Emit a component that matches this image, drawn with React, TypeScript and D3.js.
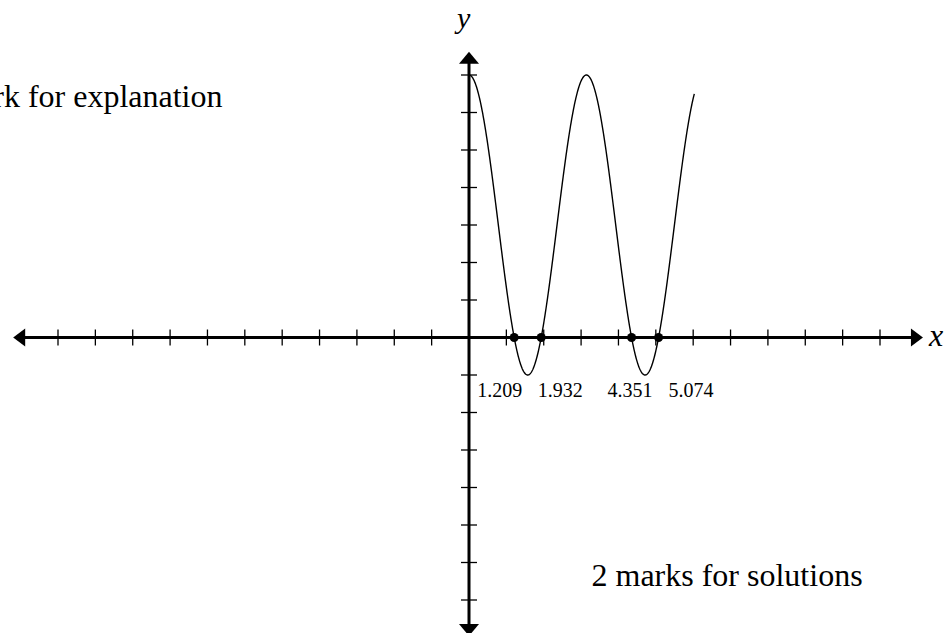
import React from "react";
import * as d3 from "d3";

// Graph of y = 4·cos(2x) + 3 on [0, 6.03] with its x-intercepts marked
const AMPLITUDE = 4;
const FREQUENCY = 2;
const OFFSET = 3;
const X_START = 0;
const X_END = 6.03;

const ROOTS = [1.209, 1.932, 4.351, 5.074];
const ROOT_LABELS = ["1.209", "1.932", "4.351", "5.074"];

const X_TICKS = d3.range(-11, 12).filter((d) => d !== 0);
const Y_TICKS = d3.range(-7, 8).filter((d) => d !== 0);

const NOTES = ["1 mark for explanation", "2 marks for solutions"];

// layout
const W = 952;
const H = 633;
const xScale = d3.scaleLinear().domain([-11, 11]).range([58, 880]);
const yScale = d3.scaleLinear().domain([-7, 7]).range([600, 75]);
const X_AXIS_EXTENT = [-12.2, 12.15];
const Y_AXIS_EXTENT = [-7.96, 7.62];
const TICK = 8;
const ARROW_LEN = 12;
const ARROW_HALF = 9;
const LABEL_DX = [-37, -3.5, -24, 10];
const FONT = "'Liberation Serif', 'Times New Roman', serif";

export default function App() {
  const samples = d3.range(X_START, X_END + 1e-9, 0.01);
  const f = (x: number) => AMPLITUDE * Math.cos(FREQUENCY * x) + OFFSET;
  const line = d3
    .line<number>()
    .x((d) => xScale(d))
    .y((d) => yScale(f(d)))
    .curve(d3.curveLinear);

  const x0 = xScale(0);
  const y0 = yScale(0);
  const xl = xScale(X_AXIS_EXTENT[0]);
  const xr = xScale(X_AXIS_EXTENT[1]);
  const yb = yScale(Y_AXIS_EXTENT[0]);
  const yt = yScale(Y_AXIS_EXTENT[1]);

  return (
    <svg
      width={W}
      height={H}
      viewBox={`0 0 ${W} ${H}`}
      style={{ position: "absolute", left: 0, top: 0, background: "#fff" }}
    >
      {/* axes */}
      <line x1={xl + ARROW_LEN - 1} x2={xr - ARROW_LEN + 1} y1={y0} y2={y0} stroke="#000" strokeWidth={3} />
      <line x1={x0} x2={x0} y1={yt + ARROW_LEN - 1} y2={yb - ARROW_LEN + 1} stroke="#000" strokeWidth={3} />
      <path d={`M${xl},${y0} L${xl + ARROW_LEN},${y0 - ARROW_HALF} L${xl + ARROW_LEN},${y0 + ARROW_HALF} Z`} fill="#000" />
      <path d={`M${xr},${y0} L${xr - ARROW_LEN},${y0 - ARROW_HALF} L${xr - ARROW_LEN},${y0 + ARROW_HALF} Z`} fill="#000" />
      <path d={`M${x0},${yt} L${x0 - ARROW_HALF - 1},${yt + ARROW_LEN} L${x0 + ARROW_HALF + 1},${yt + ARROW_LEN} Z`} fill="#000" />
      <path d={`M${x0},${yb} L${x0 - ARROW_HALF - 1},${yb - ARROW_LEN} L${x0 + ARROW_HALF + 1},${yb - ARROW_LEN} Z`} fill="#000" />

      {/* ticks */}
      {X_TICKS.map((t) => (
        <line key={`xt${t}`} x1={xScale(t)} x2={xScale(t)} y1={y0 - TICK} y2={y0 + TICK} stroke="#000" strokeWidth={1.3} />
      ))}
      {Y_TICKS.map((t) => (
        <line key={`yt${t}`} x1={x0 - TICK} x2={x0 + TICK} y1={yScale(t)} y2={yScale(t)} stroke="#000" strokeWidth={1.3} />
      ))}

      {/* axis names */}
      <text x={xr + 6} y={y0 + 8} fontFamily={FONT} fontStyle="italic" fontSize={32}>x</text>
      <text x={x0 - 12} y={28} fontFamily={FONT} fontStyle="italic" fontSize={30}>y</text>

      {/* function curve */}
      <path d={line(samples) || ""} fill="none" stroke="#000" strokeWidth={1.4} />

      {/* intercepts */}
      {ROOTS.map((r, i) => (
        <g key={`r${i}`}>
          <circle cx={xScale(r)} cy={y0} r={4.5} fill="#000" />
          <text x={xScale(r) + LABEL_DX[i]} y={y0 + 59} fontFamily={FONT} fontSize={20}>
            {ROOT_LABELS[i]}
          </text>
        </g>
      ))}

      {/* notes */}
      <text x={222.5} y={107} textAnchor="end" fontFamily={FONT} fontSize={32}>{NOTES[0]}</text>
      <text x={591.5} y={585.5} fontFamily={FONT} fontSize={32}>{NOTES[1]}</text>
    </svg>
  );
}
